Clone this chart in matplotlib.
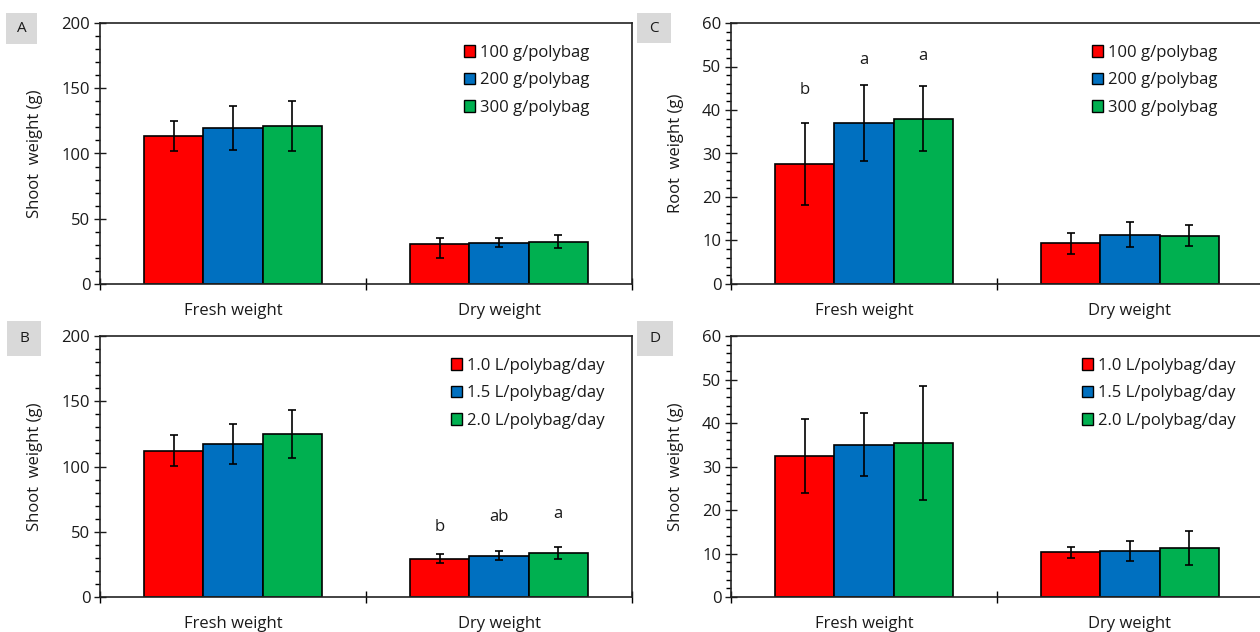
import matplotlib
matplotlib.use("Agg")
import matplotlib.pyplot as plt
from matplotlib.patches import Rectangle
from matplotlib.ticker import MultipleLocator, FixedLocator, NullFormatter
import numpy as np

plt.rcParams['font.family'] = ['Open Sans', 'DejaVu Sans']

categories = ["Fresh weight", "Dry weight"]
colors = ["#FF0000", "#0070C0", "#00B050"]

# Panel A: shoot weight by compost dose
labels_A = ["100 g/polybag", "200 g/polybag", "300 g/polybag"]
A_vals = [[113.5, 31.0], [119.8, 31.7], [121.4, 32.2]]
A_lo = [[11.3, 11.1], [16.9, 3.6], [19.2, 4.8]]
A_hi = [[11.2, 4.0], [16.6, 3.9], [19.2, 5.3]]

# Panel C: root weight by compost dose
C_vals = [[27.7, 9.4], [37.0, 11.3], [38.0, 11.1]]
C_lo = [[9.5, 2.4], [8.7, 2.9], [7.4, 2.4]]
C_hi = [[9.4, 2.4], [8.7, 2.9], [7.5, 2.4]]
C_letters = [["b", ""], ["a", ""], ["a", ""]]
C_letter_y = [[44.5, 0], [51.4, 0], [52.4, 0]]

# Panel B: shoot weight by watering volume
labels_B = ["1.0 L/polybag/day", "1.5 L/polybag/day", "2.0 L/polybag/day"]
B_vals = [[112.0, 29.3], [117.3, 31.6], [124.8, 33.6]]
B_lo = [[11.6, 3.3], [15.4, 3.3], [18.3, 4.8]]
B_hi = [[11.9, 3.4], [15.6, 3.6], [18.3, 4.6]]
B_letters = [["", "b"], ["", "ab"], ["", "a"]]
B_letter_y = [[0, 53.3], [0, 61.3], [0, 63.4]]

# Panel D: shoot weight (second) by watering volume
D_vals = [[32.4, 10.3], [35.0, 10.6], [35.4, 11.3]]
D_lo = [[8.5, 1.4], [7.2, 2.4], [13.0, 3.9]]
D_hi = [[8.5, 1.3], [7.2, 2.3], [13.0, 3.9]]

W, H = 1260, 632
FS = 12
fig = plt.figure(figsize=(W / 100, H / 100), dpi=100)


def px_axes(l, t, r, b):
    return fig.add_axes([l / W, 1 - b / H, (r - l) / W, (b - t) / H])


def panel(ax, vals, lo, hi, labels, ymax, ymajor, yminor, ylabel,
          leg_xy, letters=None, letter_y=None):
    x = np.arange(len(categories))
    w = 0.222
    for i in range(3):
        xs = x + (i - 1) * w
        ax.bar(xs, vals[i], width=w, color=colors[i], edgecolor="black",
               linewidth=1.2, label=labels[i], zorder=2)
        ax.errorbar(xs, vals[i], yerr=[lo[i], hi[i]], fmt="none",
                    ecolor="black", elinewidth=1.2, capsize=3, capthick=1.2,
                    zorder=3)
        if letters is not None:
            for j in range(len(x)):
                if letters[i][j]:
                    ax.text(xs[j], letter_y[i][j], letters[i][j],
                            ha="center", va="center", fontsize=FS,
                            color="#1a1a1a")
    ax.set_xlim(-0.5, 1.5)
    ax.set_ylim(0, ymax)
    ax.yaxis.set_major_locator(MultipleLocator(ymajor))
    ax.yaxis.set_minor_locator(MultipleLocator(yminor))
    ax.tick_params(axis="y", which="major", direction="inout", length=8,
                   width=1.0, labelsize=FS, pad=3, colors="#1a1a1a")
    ax.tick_params(axis="y", which="minor", direction="out", length=3.5,
                   width=1.0)
    ax.xaxis.set_major_locator(FixedLocator([-0.5, 0.5, 1.5]))
    ax.xaxis.set_major_formatter(NullFormatter())
    ax.xaxis.set_minor_locator(FixedLocator(list(x)))
    ax.set_xticklabels(categories, minor=True)
    ax.tick_params(axis="x", which="major", direction="inout", length=9,
                   width=1.0)
    ax.tick_params(axis="x", which="minor", length=0, labelsize=FS,
                   pad=14, colors="#1a1a1a")
    for s in ax.spines.values():
        s.set_color("#222222")
        s.set_linewidth(1.2)
    ax.set_ylabel(ylabel, fontsize=FS, labelpad=13, color="#1a1a1a")
    leg = ax.legend(loc="upper left", bbox_to_anchor=(leg_xy[0] / W, 1 - leg_xy[1] / H),
                    bbox_transform=fig.transFigure, frameon=False,
                    fontsize=FS, handlelength=0.68, handleheight=0.68,
                    handletextpad=0.3, labelspacing=0.68, borderpad=0,
                    borderaxespad=0)
    for t in leg.get_texts():
        t.set_color("#1a1a1a")
    for h in leg.legend_handles:
        h.set_linewidth(1.0)


axA = px_axes(100, 23, 632, 284)
axB = px_axes(100, 336, 632, 597)
axC = px_axes(731, 23, 1263, 284)
axD = px_axes(731, 336, 1263, 597)

panel(axA, A_vals, A_lo, A_hi, labels_A, 200, 50, 10, "Shoot  weight (g)", (464, 45))
panel(axC, C_vals, C_lo, C_hi, labels_A, 60, 10, 2, "Root  weight (g)", (1092, 45),
      C_letters, C_letter_y)
panel(axB, B_vals, B_lo, B_hi, labels_B, 200, 50, 10, "Shoot  weight (g)", (451, 358),
      B_letters, B_letter_y)
panel(axD, D_vals, D_lo, D_hi, labels_B, 60, 10, 2, "Shoot  weight (g)", (1082, 358))

# Panel letter boxes
for letter, (l, t, r, b) in [("A", (6, 13, 37, 44)), ("C", (637, 13, 671, 43)),
                             ("B", (7, 321, 41, 356)), ("D", (637, 321, 673, 356))]:
    fig.patches.append(Rectangle((l / W, 1 - b / H), (r - l) / W, (b - t) / H,
                                 transform=fig.transFigure, facecolor="#D9D9D9",
                                 edgecolor="none", zorder=0))
    fig.text((l + r) / 2 / W, 1 - ((t + b) / 2) / H, letter, ha="center",
             va="center", fontsize=FS - 1, color="#1a1a1a")

fig.savefig("out.png", dpi=100)
